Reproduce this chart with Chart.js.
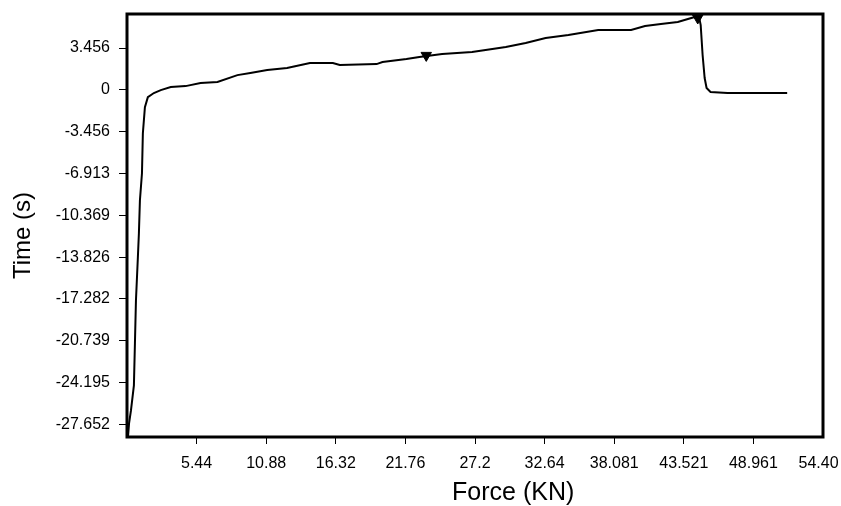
<!DOCTYPE html>
<html>
<head>
<meta charset="utf-8">
<script src="https://cdn.jsdelivr.net/npm/chart.js@4/dist/chart.umd.min.js"></script>
<style>
  body { margin: 0; background: #fff; }
  canvas { display: block; }
</style>
</head>
<body>
<canvas id="forceChart" width="841" height="506"></canvas>
<script>
const forceKN = [0.08, 0.16, 0.31, 0.54, 0.62, 0.70, 0.85, 0.93, 1.01, 1.17, 1.24, 1.40, 1.63, 2.10, 2.64, 3.42, 4.58, 5.75, 7.07, 8.63, 9.64, 10.96, 12.51, 14.30, 16.09, 16.63, 19.51, 19.97, 21.84, 22.85, 24.63, 26.97, 29.61, 31.16, 32.72, 34.50, 36.83, 39.40, 40.49, 41.73, 43.05, 44.37, 44.68, 44.84, 44.99, 45.15, 45.30, 45.61, 46.94, 49.03, 51.60];
const timeS = [-28.64, -27.56, -26.49, -24.42, -20.95, -17.39, -13.83, -11.85, -9.12, -6.89, -3.58, -1.43, -0.60, -0.26, -0.02, 0.23, 0.31, 0.56, 0.65, 1.22, 1.39, 1.64, 1.80, 2.22, 2.22, 2.05, 2.13, 2.30, 2.55, 2.71, 2.96, 3.13, 3.54, 3.87, 4.28, 4.53, 4.95, 4.95, 5.28, 5.44, 5.61, 6.02, 6.19, 5.36, 2.88, 0.98, 0.15, -0.18, -0.26, -0.26, -0.26];

const markerForce = [23.39, 44.61];
const markerTime = [2.85, 5.94];

const xTickValues = [5.44, 10.88, 16.32, 21.76, 27.2, 32.64, 38.081, 43.521, 48.961, 54.40];
const xTickLabels = ['5.44', '10.88', '16.32', '21.76', '27.2', '32.64', '38.081', '43.521', '48.961', '54.40  '];
const yTickValues = [3.456, 0, -3.456, -6.913, -10.369, -13.826, -17.282, -20.739, -24.195, -27.652];
const yTickLabels = ['3.456', '0', '-3.456', '-6.913', '-10.369', '-13.826', '-17.282', '-20.739', '-24.195', '-27.652'];

const FONT = "'Liberation Sans', Arial, sans-serif";

// thick black frame round the plot area
const framePlugin = {
    id: 'frame',
    afterDraw(chart) {
        const a = chart.chartArea;
        const ctx = chart.ctx;
        ctx.save();
        ctx.strokeStyle = '#000';
        ctx.lineWidth = 3;
        ctx.strokeRect(a.left, a.top, a.right - a.left, a.bottom - a.top);
        ctx.restore();
    }
};

const ctx = document.getElementById('forceChart').getContext('2d');
new Chart(ctx, {
    type: 'line',
    data: {
        datasets: [{
            data: forceKN.map((f, i) => ({ x: f, y: timeS[i] })),
            borderColor: '#000',
            borderWidth: 2,
            pointRadius: 0,
            tension: 0
        }, {
            data: markerForce.map((f, i) => ({ x: f, y: markerTime[i] })),
            showLine: false,
            pointStyle: 'triangle',
            rotation: 180,
            pointRadius: 6,
            backgroundColor: '#000',
            borderColor: '#000',
            borderWidth: 1
        }]
    },
    plugins: [framePlugin],
    options: {
        responsive: false,
        animation: false,
        layout: { padding: { top: 14, left: 0, right: 0, bottom: 0 } },
        plugins: {
            legend: { display: false },
            tooltip: { enabled: false }
        },
        scales: {
            x: {
                type: 'linear',
                min: 0,
                max: 54.40,
                afterBuildTicks: s => { s.ticks = xTickValues.map(v => ({ value: v })); },
                afterFit: s => { s.height = 69; s.paddingLeft = 0; s.paddingRight = 18; },
                grid: {
                    drawOnChartArea: false,
                    drawTicks: true,
                    tickLength: 7,
                    tickColor: c => (c.tick && c.tick.value >= 54.4) ? 'rgba(0,0,0,0)' : '#000'
                },
                border: { display: false },
                ticks: {
                    autoSkip: false,
                    maxRotation: 0,
                    padding: 10,
                    color: '#000',
                    font: { family: FONT, size: 16 },
                    callback: (v, i) => xTickLabels[i]
                },
                title: {
                    display: true,
                    text: '           Force (KN)',
                    color: '#000',
                    font: { family: FONT, size: 25, lineHeight: 1 },
                    padding: { top: 0, bottom: 0 }
                }
            },
            y: {
                type: 'linear',
                min: -28.69,
                max: 6.27,
                afterBuildTicks: s => { s.ticks = yTickValues.map(v => ({ value: v })); },
                afterFit: s => { s.width = 127; s.paddingTop = 0; s.paddingBottom = 0; },
                grid: {
                    drawOnChartArea: false,
                    drawTicks: true,
                    tickLength: 8,
                    tickColor: '#000'
                },
                border: { display: false },
                ticks: {
                    autoSkip: false,
                    padding: 9,
                    color: '#000',
                    font: { family: FONT, size: 16 },
                    callback: (v, i) => yTickLabels[i]
                },
                title: {
                    display: true,
                    text: 'Time (s)   ',
                    color: '#000',
                    font: { family: FONT, size: 24, lineHeight: 1 },
                    padding: { top: 11, bottom: 0 }
                }
            }
        }
    }
});
</script>
</body>
</html>
